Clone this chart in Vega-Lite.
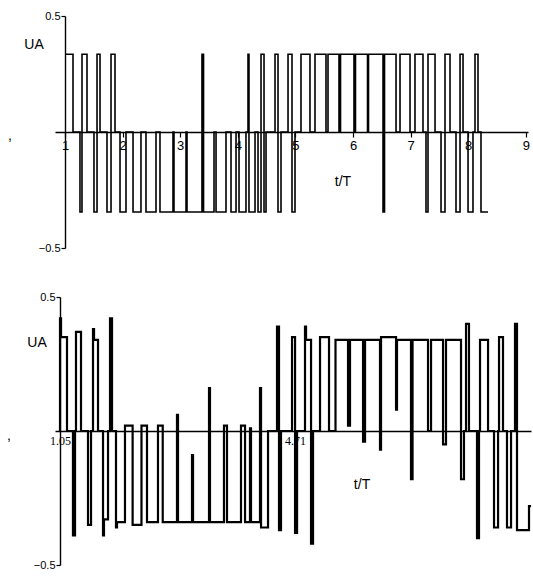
{
  "$schema": "https://vega.github.io/schema/vega-lite/v6.json",
  "autosize": {"type": "pad"},
  "padding": {"left": 7, "top": 10, "right": 0, "bottom": 0},
  "background": "white",
  "config": {
    "view": {"stroke": null},
    "font": "Liberation Sans",
    "axis": {"domainColor": "black", "tickColor": "black", "labelColor": "black", "grid": false, "labelFont": "Liberation Sans", "domainWidth": 1.4, "tickWidth": 1.2}
  },
  "spacing": 49,
  "bounds": "flush",
  "datasets": {
    "top": [
      {"t":1.000,"u":0.335},{"t":1.139,"u":0},{"t":1.260,"u":-0.345},{"t":1.295,"u":0.335},{"t":1.382,"u":0},
      {"t":1.503,"u":-0.345},{"t":1.556,"u":0.335},{"t":1.608,"u":0},{"t":1.729,"u":-0.345},{"t":1.799,"u":0.335},
      {"t":1.868,"u":0},{"t":1.955,"u":-0.345},{"t":2.059,"u":0},{"t":2.181,"u":-0.345},{"t":2.319,"u":0},
      {"t":2.406,"u":-0.345},{"t":2.580,"u":0},{"t":2.649,"u":-0.345},{"t":2.875,"u":0},{"t":2.892,"u":-0.345},
      {"t":3.101,"u":0},{"t":3.118,"u":-0.345},{"t":3.378,"u":0.335},{"t":3.405,"u":-0.345},{"t":3.587,"u":0},
      {"t":3.622,"u":-0.345},{"t":3.795,"u":0},{"t":3.882,"u":-0.345},{"t":3.969,"u":0},{"t":4.021,"u":-0.345},
      {"t":4.142,"u":0},{"t":4.177,"u":0.335},{"t":4.194,"u":-0.345},{"t":4.299,"u":0},{"t":4.351,"u":-0.345},
      {"t":4.403,"u":0.335},{"t":4.455,"u":-0.345},{"t":4.490,"u":0},{"t":4.646,"u":0.335},{"t":4.698,"u":-0.345},
      {"t":4.750,"u":0},{"t":4.872,"u":0.335},{"t":4.941,"u":-0.345},{"t":4.993,"u":0},{"t":5.097,"u":0.335},
      {"t":5.253,"u":0},{"t":5.340,"u":0.335},{"t":5.531,"u":0},{"t":5.566,"u":0.335},{"t":5.757,"u":0},
      {"t":5.783,"u":0.335},{"t":6.017,"u":0},{"t":6.043,"u":0.335},{"t":6.252,"u":0},{"t":6.269,"u":0.335},
      {"t":6.521,"u":-0.345},{"t":6.547,"u":0.335},{"t":6.747,"u":0},{"t":6.816,"u":0.335},{"t":6.990,"u":0},
      {"t":7.076,"u":0.335},{"t":7.215,"u":0},{"t":7.267,"u":-0.345},{"t":7.302,"u":0.335},{"t":7.424,"u":0},
      {"t":7.528,"u":-0.345},{"t":7.597,"u":0.335},{"t":7.684,"u":0},{"t":7.788,"u":-0.345},{"t":7.858,"u":0.335},
      {"t":7.910,"u":0},{"t":7.997,"u":-0.345},{"t":8.083,"u":0},{"t":8.118,"u":0.335},{"t":8.170,"u":0},
      {"t":8.222,"u":-0.345},{"t":8.344,"u":-0.345}
    ],
    "bottom": [
      {"t":1.045,"u":0},{"t":1.050,"u":0.42},{"t":1.066,"u":0.35},{"t":1.159,"u":0},{"t":1.252,"u":-0.39},
      {"t":1.284,"u":0},{"t":1.299,"u":0.37},{"t":1.377,"u":0},{"t":1.486,"u":-0.35},{"t":1.533,"u":0},
      {"t":1.564,"u":0.38},{"t":1.580,"u":0.34},{"t":1.642,"u":0},{"t":1.720,"u":-0.39},{"t":1.735,"u":-0.33},
      {"t":1.798,"u":0},{"t":1.829,"u":0.42},{"t":1.860,"u":0},{"t":1.922,"u":-0.36},{"t":1.938,"u":-0.34},
      {"t":2.062,"u":0.02},{"t":2.181,"u":-0.35},{"t":2.319,"u":0.02},{"t":2.405,"u":-0.34},{"t":2.576,"u":0.02},
      {"t":2.650,"u":-0.34},{"t":2.872,"u":0.06},{"t":2.888,"u":-0.34},{"t":3.106,"u":-0.09},{"t":3.122,"u":-0.34},
      {"t":3.371,"u":0.16},{"t":3.386,"u":-0.34},{"t":3.604,"u":0.02},{"t":3.651,"u":-0.34},{"t":3.869,"u":0.02},
      {"t":3.932,"u":-0.34},{"t":4.009,"u":0.01},{"t":4.025,"u":-0.34},{"t":4.165,"u":0.16},{"t":4.181,"u":-0.36},
      {"t":4.290,"u":0},{"t":4.430,"u":0.39},{"t":4.461,"u":-0.37},{"t":4.492,"u":0},{"t":4.664,"u":0.35},
      {"t":4.711,"u":-0.38},{"t":4.742,"u":0},{"t":4.866,"u":0.39},{"t":4.882,"u":0.34},{"t":4.960,"u":-0.42},
      {"t":4.991,"u":0},{"t":5.100,"u":0.35},{"t":5.240,"u":0},{"t":5.341,"u":0.34},{"t":5.536,"u":0.02},
      {"t":5.567,"u":0.34},{"t":5.770,"u":-0.04},{"t":5.801,"u":0.34},{"t":6.034,"u":-0.07},{"t":6.050,"u":0.35},
      {"t":6.284,"u":0.08},{"t":6.299,"u":0.34},{"t":6.517,"u":-0.18},{"t":6.541,"u":0.34},{"t":6.782,"u":0},
      {"t":6.829,"u":0.34},{"t":7.016,"u":-0.05},{"t":7.062,"u":0.34},{"t":7.296,"u":-0.18},{"t":7.342,"u":0},
      {"t":7.374,"u":0.40},{"t":7.420,"u":0},{"t":7.545,"u":-0.40},{"t":7.576,"u":0},{"t":7.592,"u":0.34},
      {"t":7.717,"u":0},{"t":7.810,"u":-0.36},{"t":7.873,"u":0},{"t":7.888,"u":0.35},{"t":7.950,"u":0},
      {"t":8.012,"u":-0.36},{"t":8.075,"u":0},{"t":8.137,"u":0.40},{"t":8.168,"u":-0.37},{"t":8.355,"u":-0.28},
      {"t":8.387,"u":-0.28}
    ],
    "topText": [
      {"t":0.462,"u":0.375,"label":"UA"},
      {"t":5.826,"u":-0.216,"label":"t/T"},
      {"t":0.043,"u":-0.017,"label":","}
    ],
    "bottomText": [
      {"t":0.692,"u":0.328,"label":"UA"},
      {"t":5.754,"u":-0.20,"label":"t/T"},
      {"t":0.256,"u":-0.019,"label":","}
    ]
  },
  "vconcat": [
    {
      "width": 473,
      "height": 232,
      "layer": [
        {
          "data": {"name": "top"},
          "mark": {"type": "line", "interpolate": "step-after", "color": "black", "strokeWidth": 1.6},
          "encoding": {
            "x": {"field": "t", "type": "quantitative",
              "scale": {"domain": [0.8264, 9.038], "nice": false, "zero": false},
              "axis": {"orient": "bottom", "offset": -116, "values": [1,2,3,4,5,6,7,8,9], "format": "d", "title": null, "tickSize": 5, "labelFontSize": 13, "labelPadding": 2}},
            "y": {"field": "u", "type": "quantitative",
              "scale": {"domain": [-0.5, 0.5], "nice": false},
              "axis": {"values": [-0.5, 0.5], "format": ".1f", "title": null, "offset": -10, "tickSize": 4, "labelPadding": 1, "labelFontSize": 11}}
          }
        },
        {
          "data": {"name": "topText"},
          "mark": {"type": "text", "color": "black", "fontSize": 14, "align": "center", "baseline": "middle"},
          "encoding": {
            "x": {"field": "t", "type": "quantitative"},
            "y": {"field": "u", "type": "quantitative"},
            "text": {"field": "label"}
          }
        }
      ]
    },
    {
      "width": 476,
      "height": 268,
      "layer": [
        {
          "data": {"name": "bottom"},
          "mark": {"type": "line", "interpolate": "step-after", "color": "black", "strokeWidth": 2.2},
          "encoding": {
            "x": {"field": "t", "type": "quantitative",
              "scale": {"domain": [0.972, 8.386], "nice": false, "zero": false},
              "axis": {"orient": "bottom", "offset": -134, "values": [1.05, 4.71], "format": ".2f", "title": null, "tickSize": 0, "labelFontSize": 12, "labelFont": "Liberation Serif", "labelPadding": 4}},
            "y": {"field": "u", "type": "quantitative",
              "scale": {"domain": [-0.5, 0.5], "nice": false},
              "axis": {"values": [-0.5, 0.5], "format": ".1f", "title": null, "offset": -5, "tickSize": 4, "labelPadding": 1, "labelFontSize": 11}}
          }
        },
        {
          "data": {"name": "bottomText"},
          "mark": {"type": "text", "color": "black", "fontSize": 14, "align": "center", "baseline": "middle"},
          "encoding": {
            "x": {"field": "t", "type": "quantitative"},
            "y": {"field": "u", "type": "quantitative"},
            "text": {"field": "label"}
          }
        }
      ]
    }
  ]
}
